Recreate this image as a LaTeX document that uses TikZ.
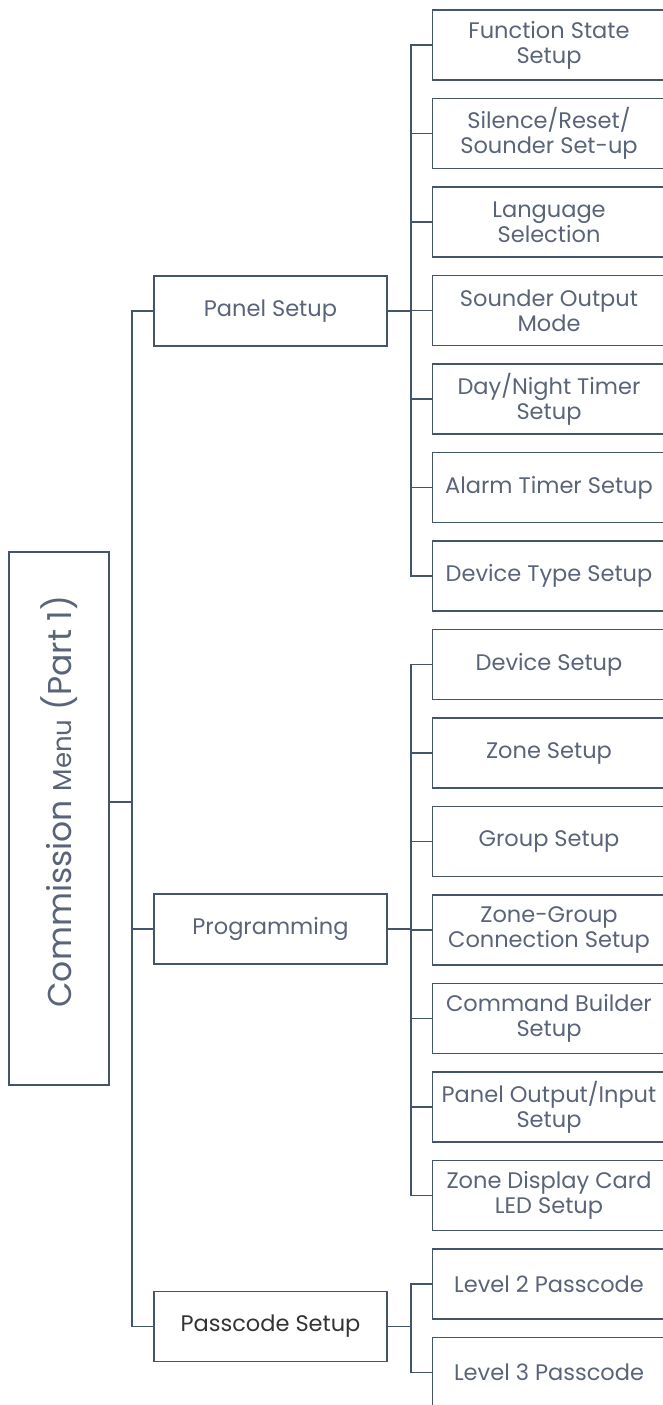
\documentclass[tikz,border=0pt]{standalone}
\usepackage{fontspec}
\setmainfont{Poppins}
\definecolor{linec}{HTML}{44546A}
\definecolor{txtc}{HTML}{5A6479}
\definecolor{darktxt}{HTML}{333333}
\tikzset{
  menubox/.style={draw=linec, line width=1.6bp, minimum width=233bp, minimum height=70bp,
    inner sep=1bp, align=center, text=txtc, font=\fontsize{22.5bp}{25bp}\selectfont},
  rootbox/.style={draw=linec, line width=1.6bp, minimum width=533bp, minimum height=100bp,
    rotate=90, text=txtc, font=\fontsize{33bp}{36bp}\selectfont},
  link/.style={draw=linec, line width=1.6bp}
}
\begin{document}
\begin{tikzpicture}[x=1bp,y=-1bp]
      \useasboundingbox (0,0) rectangle (663,1405);
      \draw
        (59,818.5) node[rootbox] (root){\hspace*{34bp}Commission {\fontsize{26bp}{28bp}\selectfont Menu} (Part 1)}
        (270.5,311) node[menubox] (panel){Panel Setup}
        (270.5,929) node[menubox] (prog){Programming}
        (270.5,1326.5) node[menubox, text=darktxt] (pass){Passcode Setup}
        (549,45) node[menubox] (fstate){Function State\\Setup}
        (549,133.5) node[menubox] (silence){Silence/Reset/\\Sounder Set-up}
        (549,222) node[menubox] (lang){Language\\Selection}
        (549,310.5) node[menubox] (sndout){Sounder Output\\Mode}
        (549,399) node[menubox] (daynight){Day/Night Timer\\Setup}
        (549,487.5) node[menubox] (alarm){Alarm Timer Setup}
        (549,576) node[menubox] (devtype){Device Type Setup}
        (549,664.5) node[menubox] (device){Device Setup}
        (549,753) node[menubox] (zone){Zone Setup}
        (549,841.5) node[menubox] (group){Group Setup}
        (549,930) node[menubox] (zgconn){Zone-Group\\Connection Setup}
        (549,1018.5) node[menubox] (cmdbuild){Command Builder\\Setup}
        (549,1107) node[menubox] (pio){Panel Output/Input\\Setup}
        (549,1195.5) node[menubox] (zdc){Zone Display Card\\LED Setup}
        (549,1284) node[menubox] (lvl2){Level 2 Passcode}
        (549,1372.5) node[menubox] (lvl3){Level 3 Passcode};
      \begin{scope}[link]
        \draw ([yshift=16.5bp]root.south) -- ++(22,0) coordinate (rt);
        \draw (rt) |- (panel.west);
        \draw (rt) |- (prog.west);
        \draw (rt) |- (pass.west);
        \draw (panel.east) -- ++(23,0) coordinate (pt);
        \foreach \c in {fstate,silence,lang,sndout,daynight,alarm,devtype}
          \draw (pt) |- (\c.west);
        \draw (prog.east) -- ++(23,0) coordinate (gt);
        \foreach \c in {device,zone,group,zgconn,cmdbuild,pio,zdc}
          \draw (gt) |- (\c.west);
        \draw (pass.east) -- ++(23,0) coordinate (st);
        \foreach \c in {lvl2,lvl3}
          \draw (st) |- (\c.west);
      \end{scope}
    \end{tikzpicture}
\end{document}
